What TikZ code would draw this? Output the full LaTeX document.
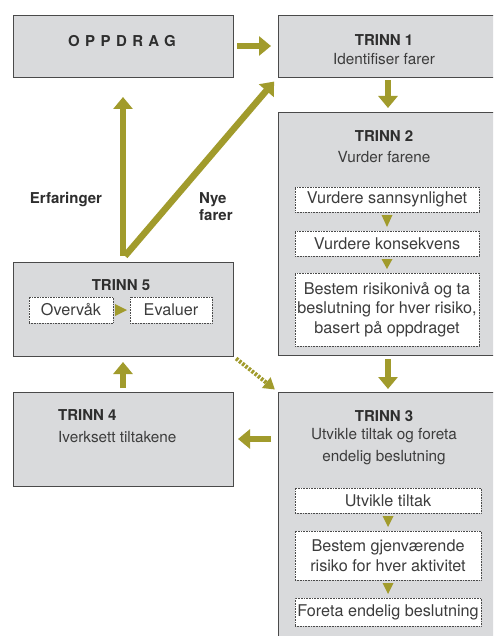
\documentclass[tikz,border=0pt]{standalone}
\usepackage{fontspec}
\setmainfont{TeX Gyre Heros}
\newfontfamily\spacedfont[LetterSpace=36]{TeX Gyre Heros}
\usetikzlibrary{arrows.meta,calc}
\definecolor{boxfill}{HTML}{D9DADC}
\definecolor{boxline}{HTML}{4A4A4A}
\definecolor{olivearrow}{HTML}{A19B2C}
\definecolor{ink}{HTML}{2E2E2E}
\definecolor{softink}{HTML}{3C3C3C}
\begin{document}
\begin{tikzpicture}[x=1pt,y=-1pt,
  panel/.style={draw=boxline, line width=0.9pt, fill=boxfill, inner sep=0pt, outer sep=0pt, anchor=north west},
  subbox/.style={draw=boxline, densely dotted, line width=0.6pt, fill=white, inner sep=0pt, outer sep=0pt,
    anchor=north west, align=center, text=softink, font=\fontsize{16.2}{19.5}\selectfont},
  title/.style={inner sep=0pt, text=ink, font=\bfseries\fontsize{15}{18}\selectfont},
  body/.style={inner sep=0pt, text=softink, align=center, font=\fontsize{15.3}{22}\selectfont},
  flow/.style={draw=olivearrow, line width=6.5pt, -{Triangle[width=19pt,length=12pt]}},
  dotflow/.style={draw=olivearrow, line width=4pt, dash pattern=on 2.5pt off 1.5pt, -{Triangle[width=13pt,length=11pt]}},
  tri/.style={fill=olivearrow}
]
\clip (0,0) rectangle (493,636);
\fill[white] (0,0) rectangle (493,636);

% panels
\node[panel, minimum width=220, minimum height=62] (opp) at (13,15) {};
\node[panel, minimum width=220, minimum height=62] (t1) at (278,15) {};
\node[panel, minimum width=220, minimum height=243] (t2) at (278,112) {};
\node[panel, minimum width=220, minimum height=260] (t3) at (278,392) {};
\node[panel, minimum width=220, minimum height=94] (t5) at (13,262) {};
\node[panel, minimum width=220, minimum height=94] (t4) at (13,392) {};

% panel texts
\node[title, font=\spacedfont\bfseries\fontsize{15}{17}\selectfont] (oppt) at (122,41) {OPPDRAG};
\node[title] (t1a) at (384,40) {TRINN 1};
\node[body] (t1b) at (384,59) {Identifiser farer};
\node[title] (t2a) at (384,136) {TRINN 2};
\node[body] (t2b) at (384,157) {Vurder farene};
\node[title] (t3a) at (384,416) {TRINN 3};
\node[body, anchor=north] (t3b) at (384,428) {Utvikle tiltak og foreta\\endelig beslutning};
\node[title] (t5a) at (121,285) {TRINN 5};
\node[title, anchor=west] (t4a) at (58,415) {TRINN 4};
\node[body, anchor=west] (t4b) at (58,437) {Iverksett tiltakene};

% sub-steps of TRINN 2
\node[subbox, minimum width=184, minimum height=25] (s21) at (295,187) {Vurdere sannsynlighet};
\node[subbox, minimum width=184, minimum height=25] (s22) at (295,231) {Vurdere konsekvens};
\node[subbox, minimum width=184, minimum height=73] (s23) at (295,273) {Bestem risikonivå og ta\\beslutning for hver risiko,\\basert på oppdraget};

% sub-steps of TRINN 3
\node[subbox, minimum width=186, minimum height=25] (s31) at (295,488) {Utvikle tiltak};
\node[subbox, minimum width=186, minimum height=49] (s32) at (295,531) {Bestem gjenværende\\risiko for hver aktivitet};
\node[subbox, minimum width=186, minimum height=28] (s33) at (295,598) {Foreta endelig beslutning};

% sub-steps of TRINN 5
\node[subbox, minimum width=84, minimum height=26] (s51) at (29,297) {Overvåk};
\node[subbox, minimum width=82, minimum height=26] (s52) at (130,297) {Evaluer};

% small pointers between sub-steps
\foreach \a/\b in {s21/s22, s22/s23, s31/s32, s32/s33}{
  \fill[tri] ($(\a.south)+(-5.5,3)$) -- ($(\a.south)+(5.5,3)$) -- ($(\b.north)+(0,-4)$) -- cycle;
}
\fill[tri] ($(s51.east)+(2,-6)$) -- ($(s51.east)+(2,6)$) -- ($(s52.west)+(-3,0)$) -- cycle;

% main flow arrows
\draw[flow, shorten <=4pt, shorten >=7pt] (opp.east) -- (t1.west);
\draw[flow, shorten <=3pt, shorten >=4pt] (t1.south) -- (t2.north);
\draw[flow, shorten <=4pt, shorten >=3pt] (t2.south) -- (t3.north);
\draw[flow, shorten <=7pt, shorten >=5pt] (t3.west |- t4.east) -- (t4.east);
\draw[flow, shorten <=4pt, shorten >=6pt] (t4.north) -- (t5.south);
\draw[dotflow, shorten <=4pt, shorten >=4pt] (t5.south east) -- (t3.north west);

% feedback arrows
\coordinate (v) at (123,256);
\draw[flow, shorten >=20pt] (v) -- (v |- opp.south);
\draw[flow, shorten >=6pt] ($(v)+(2,0)$) -- (t1.south west);

% labels of the feedback arrows
\node[title] (erf) at (66,200) {Erfaringer};
\node[title, align=left, anchor=north west, font=\bfseries\fontsize{15}{17}\selectfont] (nye) at (199,192) {Nye\\farer};
\end{tikzpicture}
\end{document}
